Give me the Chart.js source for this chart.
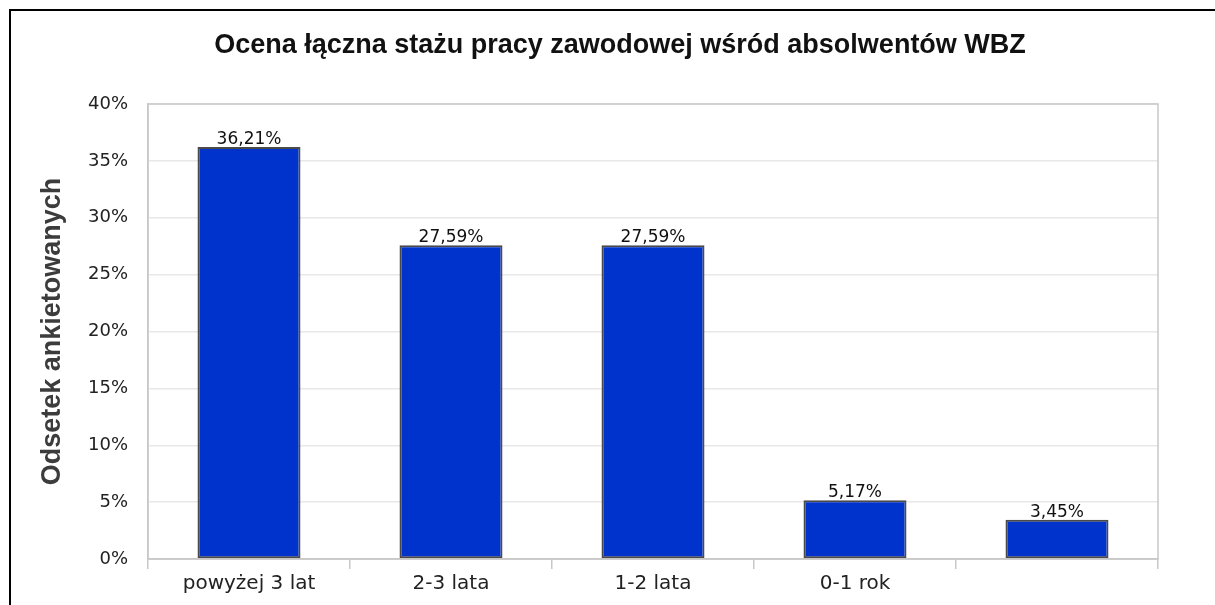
<!DOCTYPE html>
<html>
<head>
<meta charset="utf-8">
<script src="https://cdn.jsdelivr.net/npm/chart.js@4.4.1/dist/chart.umd.min.js"></script>
<style>
    html, body { margin: 0; padding: 0; background: #fff; }
    #wrap { width: 1215px; height: 605px; position: relative; }
</style>
</head>
<body>
<div id="wrap"><canvas id="chart" width="1215" height="605"></canvas></div>
<script>
// Dane wykresu
const kategorie = ['powyżej 3 lat', '2-3 lata', '1-2 lata', '0-1 rok', ''];
const odsetek = [36.21, 27.59, 27.59, 5.17, 3.45];
const tytul = 'Ocena łączna stażu pracy zawodowej wśród absolwentów WBZ';
const tytulOsiY = 'Odsetek ankietowanych';

// Ramka, tytuł i obramowanie obszaru wykresu
const ramkaPlugin = {
    id: 'ramka',
    beforeDraw(chart) {
        const ctx = chart.ctx;
        ctx.save();
        ctx.fillStyle = '#fff';
        ctx.fillRect(0, 0, chart.width, chart.height);
        ctx.fillStyle = '#000';
        ctx.fillRect(9, 9, 2, chart.height - 9);
        ctx.fillRect(9, 9, chart.width - 9, 2);
        ctx.restore();
    },
    afterDraw(chart) {
        const ctx = chart.ctx;
        const a = chart.chartArea;
        ctx.save();
        ctx.strokeStyle = '#c8c8c8';
        ctx.lineWidth = 1.5;
        ctx.strokeRect(a.left, a.top, a.right - a.left, a.bottom - a.top);
        ctx.fillStyle = '#111';
        ctx.font = 'bold 27px "Liberation Sans", Arial, sans-serif';
        ctx.textAlign = 'center';
        ctx.textBaseline = 'middle';
        ctx.fillText(tytul, 620, 46);
        ctx.restore();
    }
};

// Etykiety wartości nad słupkami
const etykietyPlugin = {
    id: 'etykiety',
    afterDatasetsDraw(chart) {
        const ctx = chart.ctx;
        const meta = chart.getDatasetMeta(0);
        ctx.save();
        ctx.font = '17px "DejaVu Sans", sans-serif';
        ctx.fillStyle = '#111';
        ctx.textAlign = 'center';
        ctx.textBaseline = 'bottom';
        meta.data.forEach((bar, i) => {
            const txt = odsetek[i].toFixed(2).replace('.', ',') + '%';
            ctx.fillText(txt, bar.x, bar.y + 1);
        });
        ctx.restore();
    }
};

new Chart(document.getElementById('chart'), {
    type: 'bar',
    data: {
        labels: kategorie,
        datasets: [{
            data: odsetek,
            backgroundColor: '#0033cc',
            borderColor: '#4a4a4a',
            borderWidth: 2,
            borderSkipped: false,
            barPercentage: 0.51,
            categoryPercentage: 1.0
        }]
    },
    options: {
        responsive: false,
        animation: false,
        layout: { padding: { top: 104, right: 57, left: 0, bottom: 0 } },
        plugins: {
            legend: { display: false },
            title: { display: false },
            tooltip: { enabled: false }
        },
        scales: {
            x: {
                grid: {
                    offset: true,
                    drawOnChartArea: false,
                    drawTicks: true,
                    tickLength: 10,
                    color: '#c8c8c8',
                    lineWidth: 1.5
                },
                border: { color: '#c8c8c8', width: 1.5 },
                ticks: {
                    color: '#222',
                    font: { family: '"DejaVu Sans", sans-serif', size: 20 },
                    padding: 3,
                    maxRotation: 0
                },
                afterFit(scale) { scale.height = 46; }
            },
            y: {
                min: 0,
                max: 40,
                ticks: {
                    stepSize: 5,
                    color: '#222',
                    font: { family: '"DejaVu Sans", sans-serif', size: 18 },
                    padding: 20,
                    callback: v => v + '%'
                },
                grid: { color: '#e8e8e8', lineWidth: 1.5, tickLength: 0 },
                border: { color: '#c8c8c8', width: 1.5 },
                title: {
                    display: true,
                    text: tytulOsiY,
                    color: '#3c3c3c',
                    font: { family: '"Liberation Sans", Arial, sans-serif', size: 27, weight: 'bold' },
                    padding: { top: 36, bottom: 0 }
                },
                afterFit(scale) { scale.width = 148; }
            }
        }
    },
    plugins: [ramkaPlugin, etykietyPlugin]
});
</script>
</body>
</html>
